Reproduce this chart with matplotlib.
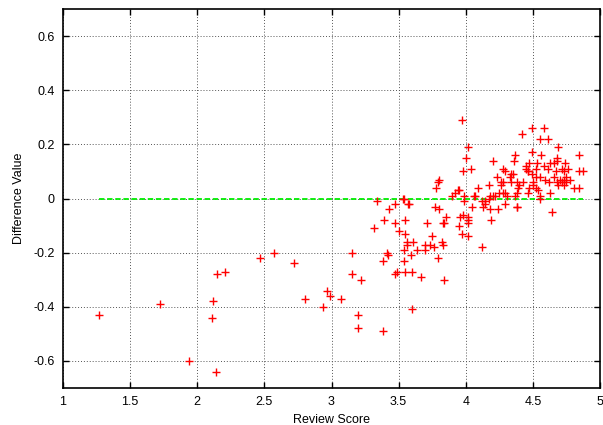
import numpy as np
import matplotlib
matplotlib.use('Agg')
import matplotlib.pyplot as plt
from matplotlib.ticker import FuncFormatter

plt.rcParams['font.family'] = ['Liberation Sans', 'DejaVu Sans']

# review score vs difference value
review_score = [
    1.27, 1.72, 1.94, 2.12, 2.11, 2.14, 2.15, 2.21, 2.47, 2.57,
    2.72, 2.80, 2.94, 2.97, 2.99, 3.07, 3.15, 3.15, 3.22, 3.20,
    3.20, 3.34, 3.38, 3.38, 3.32, 3.39, 3.41, 3.42, 3.43, 3.47,
    3.47, 3.49, 3.47, 3.50, 3.53, 3.54, 3.57, 3.55, 3.55, 3.56,
    3.56, 3.54, 3.54, 3.55, 3.59, 3.60, 3.61, 3.64, 3.60, 3.67,
    3.71, 3.70, 3.70, 3.73, 3.75, 3.76, 3.79, 3.84, 3.82, 3.83,
    3.77, 3.80, 3.85, 3.83, 3.84, 3.78, 3.79, 3.80, 3.97, 4.02,
    4.00, 3.98, 4.04, 4.09, 4.17, 3.58, 3.90, 3.92, 3.94, 3.95,
    3.99, 3.99, 3.98, 3.96, 3.95, 4.02, 4.02, 3.97, 4.02, 4.12,
    4.05, 4.06, 4.12, 4.13, 4.18, 4.42, 4.20, 4.37, 4.36, 4.28,
    4.29, 4.47, 4.45, 4.46, 4.34, 4.33, 4.35, 4.23, 4.26, 4.28,
    4.26, 4.34, 4.38, 4.43, 4.40, 4.39, 4.38, 4.46, 4.37, 4.07,
    4.14, 4.17, 4.18, 4.20, 4.22, 4.25, 4.28, 4.29, 4.31, 4.29,
    4.24, 4.38, 4.19, 4.58, 4.49, 4.55, 4.61, 4.69, 4.49, 4.56,
    4.84, 4.68, 4.68, 4.63, 4.74, 4.66, 4.53, 4.58, 4.45, 4.46,
    4.52, 4.61, 4.72, 4.76, 4.73, 4.49, 4.67, 4.55, 4.52, 4.59,
    4.66, 4.70, 4.73, 4.78, 4.75, 4.50, 4.47, 4.62, 4.68, 4.72,
    4.75, 4.69, 4.73, 4.52, 4.54, 4.50, 4.63, 4.55, 4.84, 4.87,
    4.84, 4.81, 4.55, 4.64, 4.02, 4.14, 4.38,
]
difference = [
    -0.43, -0.39, -0.60, -0.38, -0.44, -0.64, -0.28, -0.27, -0.22, -0.20,
    -0.24, -0.37, -0.40, -0.34, -0.36, -0.37, -0.20, -0.28, -0.30, -0.43,
    -0.48, -0.01, -0.49, -0.23, -0.11, -0.08, -0.20, -0.21, -0.04, -0.02,
    -0.28, -0.27, -0.09, -0.12, 0.00, 0.00, -0.02, -0.08, -0.13, -0.16,
    -0.17, -0.19, -0.23, -0.27, -0.21, -0.27, -0.16, -0.19, -0.41, -0.29,
    -0.09, -0.17, -0.19, -0.17, -0.14, -0.18, -0.22, -0.30, -0.16, -0.17,
    -0.03, -0.04, -0.07, -0.09, -0.09, 0.04, 0.06, 0.07, 0.29, 0.19,
    0.15, 0.10, 0.11, 0.04, 0.05, -0.02, 0.01, 0.02, 0.03, 0.03,
    0.01, -0.01, -0.06, -0.07, -0.10, -0.07, -0.09, -0.13, -0.14, -0.18,
    -0.03, 0.01, -0.01, -0.03, -0.04, 0.24, 0.14, 0.16, 0.14, 0.11,
    0.10, 0.13, 0.11, 0.10, 0.09, 0.08, 0.09, 0.08, 0.06, 0.06,
    0.05, 0.06, 0.06, 0.06, 0.05, 0.04, 0.02, 0.02, 0.01, 0.01,
    -0.01, 0.00, 0.01, 0.01, 0.01, 0.02, 0.02, 0.02, 0.01, -0.02,
    -0.04, -0.03, -0.08, 0.26, 0.26, 0.22, 0.22, 0.19, 0.17, 0.16,
    0.16, 0.15, 0.14, 0.13, 0.13, 0.13, 0.13, 0.12, 0.12, 0.10,
    0.11, 0.11, 0.11, 0.11, 0.10, 0.09, 0.10, 0.08, 0.08, 0.07,
    0.08, 0.07, 0.07, 0.07, 0.08, 0.06, 0.04, 0.06, 0.06, 0.06,
    0.06, 0.05, 0.05, 0.04, 0.03, 0.05, 0.02, 0.01, 0.10, 0.10,
    0.04, 0.04, 0.00, -0.05, -0.08, -0.02, -0.03,
]

x_ticks = [1, 1.5, 2, 2.5, 3, 3.5, 4, 4.5, 5]
y_ticks = [-0.6, -0.4, -0.2, 0, 0.2, 0.4, 0.6]

fig = plt.figure(figsize=(6.03, 4.25), dpi=100)
ax = fig.add_axes([63/603, 37/425, 537/603, 379/425])

ax.plot(review_score, difference, '+', color='#ff0000', markersize=6, markeredgewidth=1.0, zorder=3)

# zero line across the data range
xs = [min(review_score), max(review_score)]
ax.plot(xs, [0, 0], color='#00ee00', linestyle=(0, (3, 1.5)), linewidth=1.3, zorder=2)

ax.set_xlim(1, 5)
ax.set_ylim(-0.7, 0.7)
ax.set_xticks(x_ticks)
ax.set_yticks(y_ticks)
fmt = FuncFormatter(lambda v, p: '%g' % round(v, 2))
ax.xaxis.set_major_formatter(fmt)
ax.yaxis.set_major_formatter(fmt)
ax.tick_params(direction='in', length=4, width=1, top=True, right=True,
               labelsize=9, colors='black', pad=6)

ax.grid(True, color='#555555', linestyle=(0, (1, 2)), linewidth=0.7)
for s in ax.spines.values():
    s.set_linewidth(1.2)
    s.set_color('black')

ax.set_xlabel('Review Score', fontsize=9, labelpad=4)
ax.set_ylabel('Difference Value', fontsize=9, labelpad=6)

fig.savefig('out.png', dpi=100)
